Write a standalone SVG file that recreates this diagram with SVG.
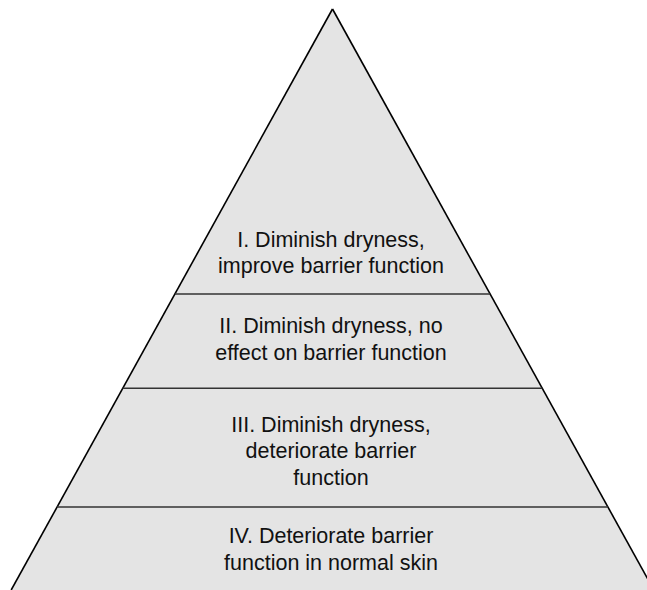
<svg xmlns="http://www.w3.org/2000/svg" width="647" height="590" viewBox="0 0 647 590">
<style>
.tier{fill:#e4e4e4;stroke:none}
.side{stroke:#000;stroke-width:1.6;fill:none}
.div{stroke:#333;stroke-width:1.6;fill:none}
.lbl{font-family:"Liberation Sans",Arial,sans-serif;font-size:21.5px;fill:#111;text-anchor:middle}
</style>
<rect width="647" height="590" fill="#fff"/>
<g id="tier1">
<polygon class="tier" points="332.5,9 490.1,294 174.9,294"/>
<text class="lbl" x="331" y="246.5">I. Diminish dryness,</text>
<text class="lbl" x="331" y="273.3">improve barrier function</text>
</g>
<g id="tier2">
<polygon class="tier" points="174.9,294 490.1,294 542.3,388.3 122.7,388.3"/>
<text class="lbl" x="331" y="333.3">II. Diminish dryness, no</text>
<text class="lbl" x="331" y="360">effect on barrier function</text>
</g>
<g id="tier3">
<polygon class="tier" points="122.7,388.3 542.3,388.3 607.9,507 57.1,507"/>
<text class="lbl" x="331" y="431.5">III. Diminish dryness,</text>
<text class="lbl" x="331" y="458.3">deteriorate barrier</text>
<text class="lbl" x="331" y="485">function</text>
</g>
<g id="tier4">
<polygon class="tier" points="57.1,507 607.9,507 653.8,590 11.2,590"/>
<text class="lbl" x="331" y="543.3">IV. Deteriorate barrier</text>
<text class="lbl" x="331" y="570">function in normal skin</text>
</g>
<g id="connectors">
<line class="side" x1="332.5" y1="9" x2="11.2" y2="590"/>
<line class="side" x1="332.5" y1="9" x2="653.8" y2="590"/>
<line class="div" x1="174.9" y1="294" x2="490.1" y2="294"/>
<line class="div" x1="122.7" y1="388.3" x2="542.3" y2="388.3"/>
<line class="div" x1="57.1" y1="507" x2="607.9" y2="507"/>
</g>
</svg>
